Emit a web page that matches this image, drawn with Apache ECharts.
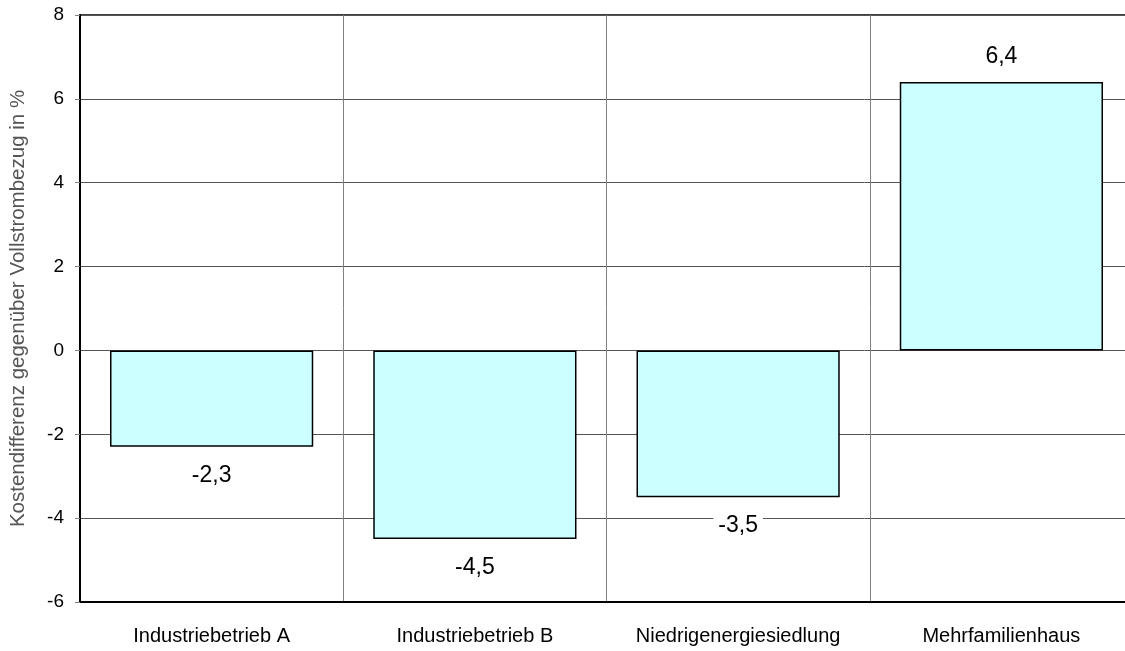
<!DOCTYPE html>
<html><head><meta charset="utf-8">
<script src="https://cdn.jsdelivr.net/npm/echarts@6/dist/echarts.min.js"></script>
<style>html,body{margin:0;padding:0;background:#fff}#c{width:1125px;height:651px}</style>
</head><body><div id="c"></div>
<script>
var categories = ['Industriebetrieb A', 'Industriebetrieb B', 'Niedrigenergiesiedlung', 'Mehrfamilienhaus'];
var values = [-2.3, -4.5, -3.5, 6.4];
var yTicks = [-6, -4, -2, 0, 2, 4, 6, 8];
var yName = 'Kostendifferenz gegenüber Vollstrombezug in %';

var chart = echarts.init(document.getElementById('c'));
var fontFam = 'Liberation Sans, Arial, sans-serif';
chart.setOption({
  animation: false,
  grid: {left: 80, width: 1053, top: 15, height: 587, outerBoundsMode: 'none', containLabel: false,
    show: true, borderColor: '#000', borderWidth: 1.5, backgroundColor: 'transparent'},
  xAxis: {
    type: 'category', data: categories,
    axisLine: {show: true, onZero: false, lineStyle: {color: '#000', width: 2}},
    axisTick: {show: false},
    axisLabel: {color: '#000', fontSize: 20, fontFamily: fontFam, margin: 24, interval: 0},
    splitLine: {show: true, interval: 0, lineStyle: {color: '#808080', width: 1}}
  },
  yAxis: {
    type: 'value', min: yTicks[0], max: yTicks[yTicks.length - 1], interval: 2,
    name: yName, nameLocation: 'middle', nameGap: 51, nameRotate: 90,
    nameTextStyle: {color: '#555', fontSize: 20.5, fontFamily: fontFam},
    axisLine: {show: true, lineStyle: {color: '#000', width: 2}},
    axisTick: {show: true, length: 5, lineStyle: {color: '#808080'}},
    axisLabel: {color: '#000', fontSize: 19, fontFamily: fontFam, margin: 16,
      formatter: function (v) { return String(v); }},
    splitLine: {show: true, lineStyle: {color: '#555', width: 1}}
  },
  series: [{
    type: 'bar', barCategoryGap: '22.8%',
    data: values.map(function (v) {
      return {value: v, label: {position: v < 0 ? 'bottom' : 'top', distance: v < 0 ? 15 : 12}};
    }),
    itemStyle: {color: '#ccffff', borderColor: '#000', borderWidth: 1.5},
    label: {show: true, color: '#000', fontSize: 23, fontFamily: fontFam,
      backgroundColor: '#fff', padding: [2, 5],
      formatter: function (p) { return String(p.value).replace('.', ','); }}
  }]
});
</script></body></html>
